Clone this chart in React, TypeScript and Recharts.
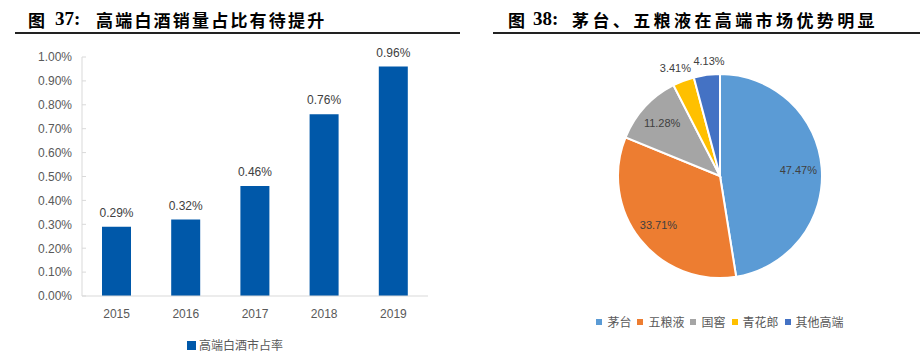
import React from 'react';
import { BarChart, Bar, XAxis, YAxis, LabelList, Legend, PieChart, Pie, Cell } from 'recharts';

// ---- data ----
const years = ['2015', '2016', '2017', '2018', '2019'];
const shareValues = [0.29, 0.32, 0.46, 0.76, 0.96];
const yTicks = [0, 0.1, 0.2, 0.3, 0.4, 0.5, 0.6, 0.7, 0.8, 0.9, 1.0];

const brandNames = ['茅台', '五粮液', '国窖', '青花郎', '其他高端'];
const brandShares = [47.47, 33.71, 11.28, 3.41, 4.13];
const brandColors = ['#5B9BD5', '#ED7D31', '#A5A5A5', '#FFC000', '#4472C4'];

const barData = years.map((year, i) => ({ year, value: shareValues[i] }));
const pieData = brandNames.map((name, i) => ({ name, value: brandShares[i] }));

const BAR_COLOR = '#0058A9';
const AXIS_COLOR = '#D9D9D9';
const TEXT_COLOR = '#595959';
const LABEL_COLOR = '#404040';
const SANS = '"Liberation Sans", Arial, sans-serif';
const CJK = '"Noto Sans CJK SC", sans-serif';
const RAD = Math.PI / 180;

// ---- titles ----
const Title = ({ left, lineLeft, lineRight, num, numLeft, textLeft, text, spacing }: any) => (
  <>
    <span style={{ position: 'absolute', left, top: 8, fontFamily: CJK, fontWeight: 700, fontSize: 17, lineHeight: '24px', color: '#000' }}>图</span>
    <span style={{ position: 'absolute', left: numLeft, top: 7, fontFamily: '"Liberation Serif", serif', fontWeight: 700, fontSize: 19, lineHeight: '24px', color: '#000' }}>{num}</span>
    <span style={{ position: 'absolute', left: textLeft, top: 8, fontFamily: CJK, fontWeight: 700, fontSize: 17, lineHeight: '24px', letterSpacing: spacing, color: '#000', whiteSpace: 'nowrap' }}>{text}</span>
    <div style={{ position: 'absolute', left: lineLeft, width: lineRight - lineLeft, top: 32, height: 2, background: '#222' }} />
  </>
);

// y tick with a short inward tick mark
const YTick = (props: any) => {
  const { x, y, payload } = props;
  return (
    <g>
      <line x1={x + 10} x2={x + 14} y1={y} y2={y} stroke={AXIS_COLOR} />
      <text x={x} y={y} dy="0.36em" textAnchor="end" fill={TEXT_COLOR} fontSize={12} fontFamily={SANS}>
        {payload.value.toFixed(2)}%
      </text>
    </g>
  );
};

const BarLegend = () => (
  <div style={{ display: 'flex', justifyContent: 'center', alignItems: 'center', fontFamily: CJK, fontSize: 12, color: TEXT_COLOR, lineHeight: '14px', paddingLeft: 42 }}>
    <span style={{ width: 9, height: 9, background: BAR_COLOR, display: 'inline-block', marginRight: 3 }} />
    <span>高端白酒市占率</span>
  </div>
);

const PieLegend = () => (
  <div style={{ display: 'flex', justifyContent: 'center', alignItems: 'center', fontFamily: CJK, fontSize: 12, color: TEXT_COLOR, lineHeight: '14px' }}>
    {brandNames.map((name, i) => (
      <span key={name} style={{ display: 'inline-flex', alignItems: 'center', marginRight: i < brandNames.length - 1 ? 6 : 0 }}>
        <span style={{ width: 6, height: 6, background: brandColors[i], display: 'inline-block', marginRight: 5 }} />
        <span>{name}</span>
      </span>
    ))}
  </div>
);

const renderPieLabel = (props: any) => {
  const { cx, cy, midAngle, outerRadius, value } = props;
  const small = value < 5;
  const r = small ? outerRadius + 14 : outerRadius * 0.77;
  let x = cx + r * Math.cos(-midAngle * RAD);
  const y = cy + r * Math.sin(-midAngle * RAD);
  if (small) {
    // spread the two small outside labels apart a little
    x += x - cx < -25 ? -3 : 4;
  }
  return (
    <text x={x} y={y} dy="0.36em" textAnchor="middle" fill={LABEL_COLOR} fontSize={11} fontFamily={SANS}>
      {value.toFixed(2)}%
    </text>
  );
};

export default function App() {
  return (
    <div style={{ position: 'fixed', left: 0, top: 0, width: 920, height: 352, background: '#fff', overflow: 'hidden' }}>
      <Title left={28} numLeft={55} textLeft={96} num="37:" text="高端白酒销量占比有待提升" spacing={2.2} lineLeft={15} lineRight={460} />
      <Title left={508} numLeft={533} textLeft={572} num="38:" text="茅台、五粮液在高端市场优势明显" spacing={3.4} lineLeft={493} lineRight={920} />

      <div style={{ position: 'absolute', left: 0, top: 40 }}>
        <BarChart width={460} height={312} data={barData} margin={{ top: 17, right: 32, left: 0, bottom: 0 }}>
          <XAxis
            dataKey="year"
            tickLine={false}
            tickSize={0}
            tickMargin={13}
            axisLine={{ stroke: AXIS_COLOR }}
            tick={{ fill: TEXT_COLOR, fontSize: 12, fontFamily: SANS }}
            height={42}
          />
          <YAxis
            domain={[0, 1]}
            ticks={yTicks}
            width={82}
            tickLine={false}
            tickSize={0}
            tickMargin={10}
            axisLine={{ stroke: AXIS_COLOR }}
            tick={<YTick />}
            interval={0}
          />
          <Legend verticalAlign="bottom" height={14} content={<BarLegend />} />
          <Bar dataKey="value" fill={BAR_COLOR} barSize={29} isAnimationActive={false}>
            <LabelList
              dataKey="value"
              position="top"
              offset={10}
              formatter={(v: any) => `${Number(v).toFixed(2)}%`}
              style={{ fill: LABEL_COLOR, fontSize: 12, fontFamily: SANS }}
            />
          </Bar>
        </BarChart>
      </div>

      <div style={{ position: 'absolute', left: 460, top: 40 }}>
        <PieChart width={460} height={312} margin={{ top: 0, right: 0, left: 0, bottom: 0 }}>
          <Pie
            data={pieData}
            dataKey="value"
            nameKey="name"
            cx={260}
            cy={136}
            outerRadius={102}
            startAngle={90}
            endAngle={-270}
            stroke="#fff"
            strokeWidth={2}
            label={renderPieLabel}
            labelLine={false}
            isAnimationActive={false}
          >
            {pieData.map((d, i) => (
              <Cell key={d.name} fill={brandColors[i]} />
            ))}
          </Pie>
          <Legend content={<PieLegend />} wrapperStyle={{ top: 275, left: 30, width: 460 }} />
        </PieChart>
      </div>
    </div>
  );
}
